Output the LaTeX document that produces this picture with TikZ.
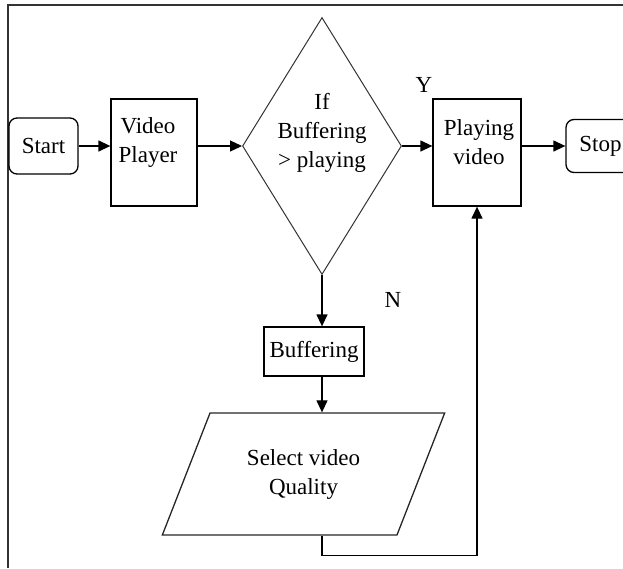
\documentclass[tikz,border=0pt]{standalone}
\usepackage{fontspec}
\setmainfont{Liberation Serif}
\usetikzlibrary{shapes.geometric,arrows.meta}

\begin{document}
\begin{tikzpicture}[x=1pt,y=-1pt,
  font=\fontsize{23}{29}\selectfont,
  box/.style={draw,line width=1.3pt,inner sep=0pt},
  term/.style={draw,line width=1.3pt,rounded corners=8pt,inner sep=0pt,minimum width=69pt},
  arr/.style={line width=1.3pt,-{Triangle[length=12pt,width=11pt]}}]
\useasboundingbox (0,0) rectangle (623,568);
\clip (0,0) rectangle (623,568);
\draw[line width=1.6pt,black!80] (8,568) -- (8,5) -- (623,5);
\node[term,minimum height=56pt] (start) at (43.5,146) {Start};
\node[box,minimum width=86pt,minimum height=107pt] (vp) at (154,152.5) {};
\node[align=center] (vptxt) at (148,142) {Video\\Player};
\node[diamond,draw,line width=1pt,black!80,inner sep=0pt,minimum width=159pt,minimum height=257pt] (dia) at (322,146) {};
\node[align=center] (diatxt) at (322,133) {If\\Buffering\\> playing};
\node[box,minimum width=88pt,minimum height=107pt] (play) at (477,152.5) {};
\node[align=center] (playtxt) at (479,142) {Playing\\video};
\node[term,minimum height=53pt] (stop) at (600.5,146) {Stop};
\node[box,minimum width=100pt,minimum height=49pt] (buf) at (314,351.5) {Buffering};
\node[trapezium,trapezium left angle=60,trapezium right angle=120,trapezium stretches=true,
  draw,line width=1.3pt,black!85,text=black,inner sep=0pt,minimum width=283pt,minimum height=122pt,align=center] (sel) at (303.5,474) {Select video\\Quality};
\node (ylab) at (424,85) {Y};
\node (nlab) at (393,300) {N};
\draw[arr] (start.east) -- (start.east -| vp.west);
\draw[arr] (vp.east |- dia) -- (dia.west);
\draw[arr] (dia.east) -- (dia.east -| play.west);
\draw[arr] (play.east |- dia) -- (stop.west);
\draw[arr] (dia.south) -- (dia.south |- buf.north);
\draw[arr] (dia.south |- buf.south) -- (dia.south |- sel.north);
\draw[arr] (dia.south |- sel.south) -- ++(0,20) -| (play.south);
\end{tikzpicture}
\end{document}
